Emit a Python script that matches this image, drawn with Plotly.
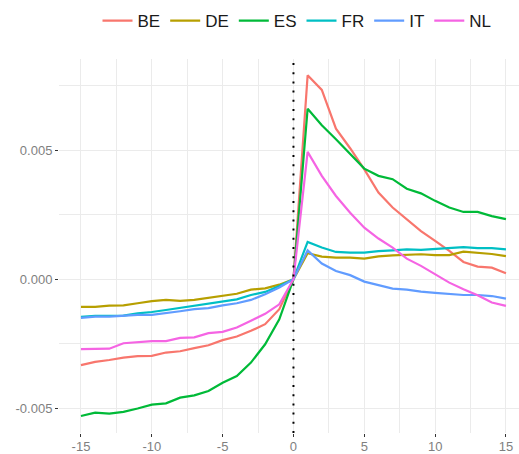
import plotly.graph_objects as go

horizon = list(range(-15, 16))
countries = ["BE", "DE", "ES", "FR", "IT", "NL"]
colors = ["#F8766D", "#B79F00", "#00BA38", "#00BFC4", "#619CFF", "#F564E3"]

# values in units of 1e-3
BE = [-3.33, -3.20, -3.13, -3.04, -2.98, -2.97, -2.84, -2.79, -2.67, -2.56, -2.36, -2.22, -2.00, -1.74, -1.16, 0.0,
      7.91, 7.34, 5.84, 5.08, 4.26, 3.36, 2.78, 2.33, 1.87, 1.49, 1.10, 0.67, 0.49, 0.45, 0.23]
DE = [-1.07, -1.07, -1.02, -1.01, -0.93, -0.85, -0.80, -0.84, -0.80, -0.72, -0.65, -0.56, -0.40, -0.35, -0.21, 0.0,
      1.01, 0.88, 0.84, 0.84, 0.80, 0.89, 0.93, 0.94, 0.97, 0.94, 0.94, 1.07, 1.03, 0.98, 0.90]
ES = [-5.30, -5.17, -5.21, -5.14, -5.01, -4.86, -4.81, -4.59, -4.50, -4.33, -4.01, -3.75, -3.23, -2.52, -1.55, 0.0,
      6.61, 5.97, 5.43, 4.87, 4.29, 4.01, 3.88, 3.51, 3.33, 3.04, 2.78, 2.61, 2.61, 2.45, 2.33]
FR = [-1.46, -1.42, -1.42, -1.41, -1.32, -1.27, -1.19, -1.11, -1.03, -0.96, -0.87, -0.78, -0.61, -0.49, -0.26, 0.0,
      1.45, 1.23, 1.06, 1.03, 1.03, 1.09, 1.12, 1.16, 1.14, 1.18, 1.21, 1.25, 1.21, 1.21, 1.16]
IT = [-1.50, -1.45, -1.45, -1.42, -1.38, -1.38, -1.32, -1.24, -1.16, -1.12, -1.01, -0.93, -0.80, -0.58, -0.32, 0.0,
      1.12, 0.61, 0.32, 0.16, -0.09, -0.23, -0.36, -0.40, -0.48, -0.53, -0.57, -0.61, -0.61, -0.65, -0.75]
NL = [-2.71, -2.69, -2.69, -2.48, -2.44, -2.40, -2.40, -2.27, -2.25, -2.09, -2.04, -1.87, -1.61, -1.34, -0.97, 0.0,
      4.94, 4.01, 3.23, 2.58, 2.00, 1.58, 1.23, 0.80, 0.52, 0.19, -0.13, -0.39, -0.62, -0.90, -1.03]

series = [BE, DE, ES, FR, IT, NL]
ytickvals = [-0.005, 0.0, 0.005]
yticktext = ["-0.005", "0.000", "0.005"]
xtickvals = [-15, -10, -5, 0, 5, 10, 15]
xticktext = ["-15", "-10", "-5", "0", "5", "10", "15"]

font = "Liberation Sans, Arial, sans-serif"

fig = go.Figure()
for name, col, vals in zip(countries, colors, series):
    fig.add_trace(go.Scatter(
        x=horizon, y=[v * 1e-3 for v in vals], mode="lines", name=name,
        line=dict(color=col, width=2.2),
    ))

fig.add_vline(x=0, line=dict(color="black", width=2, dash="2px,7.2px"))

grid = "#EBEBEB"
fig.update_layout(
    width=519, height=454,
    margin=dict(l=58.7, r=0, t=59, b=21, autoexpand=False),
    paper_bgcolor="white", plot_bgcolor="white",
    font=dict(family=font, color="#7F7F7F", size=13),
    showlegend=True,
    legend=dict(
        orientation="h", xref="container", yref="container",
        x=297 / 519, xanchor="center", y=1 - 21 / 454, yanchor="middle",
        font=dict(size=17, color="#1A1A1A", family=font),
        bgcolor="rgba(0,0,0,0)", tracegroupgap=0,
    ),
    xaxis=dict(
        range=[-16.55, 15.92], tickvals=xtickvals, ticktext=xticktext, ticks="outside", ticklen=3,
        tickcolor="#333333", tickwidth=1, showgrid=True, gridcolor=grid, gridwidth=1,
        zeroline=False, showline=False, automargin=False, ticklabelstandoff=-2,
        minor=dict(dtick=2.5, tick0=0, showgrid=True, gridcolor=grid, gridwidth=0.6, ticks=""),
    ),
    yaxis=dict(
        range=[-0.00596, 0.00854], tickvals=ytickvals, ticktext=yticktext,
        ticks="outside", ticklen=3, tickcolor="#333333", tickwidth=1,
        showgrid=True, gridcolor=grid, gridwidth=1, zeroline=False, showline=False,
        automargin=False,
        minor=dict(dtick=0.0025, tick0=0, showgrid=True, gridcolor=grid, gridwidth=0.6, ticks=""),
    ),
)

fig.write_html("out.html", config={"displayModeBar": False},
               post_script="document.body.style.margin='0';document.body.style.overflow='hidden';")
